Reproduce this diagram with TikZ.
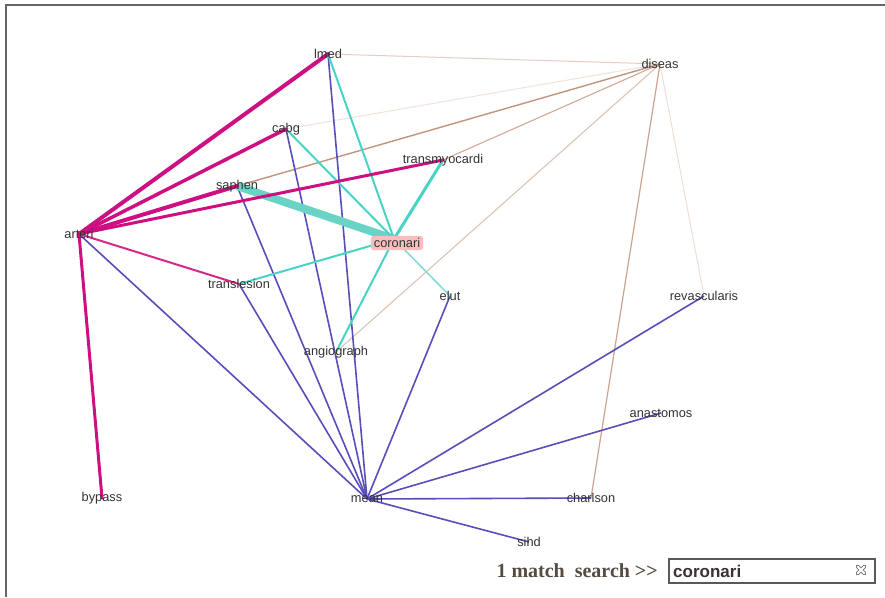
\documentclass[tikz,border=0pt]{standalone}
\usepackage{fontspec}
\setmainfont{Liberation Sans}
\newfontfamily\serifbold{Liberation Serif}
\pgfdeclarelayer{edges}
\pgfsetlayers{edges,main}
\begin{document}
\begin{tikzpicture}[x=1pt,y=-1pt,
  lbl/.style={inner sep=0pt, text=black!80, font=\fontsize{12.8}{12.8}\selectfont},
  ma/.style={draw={rgb,255:red,205;green,15;blue,130}, line cap=round},
  bl/.style={draw={rgb,255:red,88;green,78;blue,185}, line width=1.6pt},
  cy/.style={draw={rgb,255:red,72;green,212;blue,196}, line width=2pt},
  br/.style={draw={rgb,255:red,200;green,160;blue,140}, line width=1.1pt}]
\useasboundingbox (0,0) rectangle (885,597);
\begin{pgfonlayer}{edges}
\fill[white] (0,0) rectangle (885,597);
\end{pgfonlayer}
\draw[black!60, line width=2pt] (6,597) -- (6,5) -- (885,5);

% nodes
\node[lbl] (lmed) at (328,54) {lmed};
\node[lbl] (diseas) at (660,64) {diseas};
\node[lbl] (cabg) at (286,129) {cabg};
\node[lbl] (transmyocardi) at (443,160) {transmyocardi};
\node[lbl] (saphen) at (237,186) {saphen};
\node[lbl] (arteri) at (79,234) {arteri};
\node[lbl] (translesion) at (239,284) {translesion};
\node[lbl] (elut) at (450,296) {elut};
\node[lbl] (angiograph) at (336,352) {angiograph};
\node[lbl] (revascularis) at (704,296) {revascularis};
\node[lbl] (anastomos) at (661,413) {anastomos};
\node[lbl] (bypass) at (102,498) {bypass};
\node[lbl] (mean) at (367,499) {mean};
\node[lbl] (charlson) at (591,498) {charlson};
\node[lbl] (sihd) at (529,542) {sihd};
\node[lbl, fill={rgb,255:red,248;green,190;blue,190}, rounded corners=3pt, inner xsep=3pt, inner ysep=2.5pt] (coronari) at (397,243) {coronari};
\coordinate (corc) at (394,239);

\begin{pgfonlayer}{edges}
% diseas edges (brown)
\draw[br, draw={rgb,255:red,240;green,226;blue,220}, line width=1pt] (diseas.center) -- (cabg.center);
\draw[br, draw={rgb,255:red,230;green,205;blue,195}, line width=1pt] (diseas.center) -- (lmed.center);
\draw[br, draw={rgb,255:red,238;green,220;blue,212}, line width=0.9pt] (diseas.center) -- (revascularis.center);
\draw[br, draw={rgb,255:red,192;green,148;blue,126}, line width=1.4pt] (diseas.center) -- (saphen.center);
\draw[br, draw={rgb,255:red,208;green,170;blue,150}] (diseas.center) -- (transmyocardi.center);
\draw[br, draw={rgb,255:red,220;green,195;blue,180}] (diseas.center) -- (angiograph.center);
\draw[br, draw={rgb,255:red,205;green,162;blue,142}, line width=1.2pt] (diseas.center) -- (charlson.center);

% mean edges (blue)
\draw[bl] (mean.center) -- (arteri.center);
\draw[bl] (mean.center) -- (translesion.center);
\draw[bl] (mean.center) -- (saphen.center);
\draw[bl] (mean.center) -- (cabg.center);
\draw[bl] (mean.center) -- (lmed.center);
\draw[bl] (mean.center) -- (elut.center);
\draw[bl] (mean.center) -- (revascularis.center);
\draw[bl] (mean.center) -- (anastomos.center);
\draw[bl] (mean.center) -- (charlson.center);
\draw[bl] (mean.center) -- (sihd.center);

% coronari edges (cyan)
\draw[cy, line width=8pt, draw={rgb,255:red,105;green,212;blue,198}] (saphen.center) -- (corc);
\draw[cy] (corc) -- (lmed.center);
\draw[cy] (corc) -- (cabg.center);
\draw[cy, line width=3pt] (corc) -- (transmyocardi.center);
\draw[cy] (corc) -- (translesion.center);
\draw[cy] (corc) -- (angiograph.center);
\draw[cy, line width=1.5pt, draw={rgb,255:red,125;green,222;blue,210}] (corc) -- (elut.center);

% arteri edges (magenta)
\draw[ma, line width=4pt] (arteri.center) -- (lmed.center);
\draw[ma, line width=3.5pt] (arteri.center) -- (cabg.center);
\draw[ma, line width=4pt] (arteri.center) -- (saphen.center);
\draw[ma, line width=3pt] (arteri.center) -- (transmyocardi.center);
\draw[ma, line width=2pt, draw={rgb,255:red,215;green,40;blue,140}] (arteri.center) -- (translesion.center);
\draw[ma, line width=3pt] (arteri.center) -- (bypass.center);
\end{pgfonlayer}

% search bar
\node[anchor=east, inner sep=0pt, text={rgb,255:red,85;green,75;blue,65}, font=\serifbold\bfseries\fontsize{20}{20}\selectfont] (searchlbl) at (658,571) {1 match\ \ search >>};
\node[draw=black!65, line width=1.5pt, minimum width=206pt, minimum height=24pt, inner sep=0pt, anchor=west] (sbox) at (668,571) {};
\node[anchor=west, inner sep=0pt, text={rgb,255:red,60;green,50;blue,50}, font=\bfseries\fontsize{17}{17}\selectfont] (stext) at (673,571) {coronari};
\coordinate (ic) at (861,570);
\draw[black!55, line width=3.6pt, line cap=round] ([shift={(-3.5,-3.5)}]ic) -- ([shift={(3.5,3.5)}]ic) ([shift={(-3.5,3.5)}]ic) -- ([shift={(3.5,-3.5)}]ic);
\draw[white, line width=2pt, line cap=round] ([shift={(-3.5,-3.5)}]ic) -- ([shift={(3.5,3.5)}]ic) ([shift={(-3.5,3.5)}]ic) -- ([shift={(3.5,-3.5)}]ic);
\end{tikzpicture}
\end{document}
